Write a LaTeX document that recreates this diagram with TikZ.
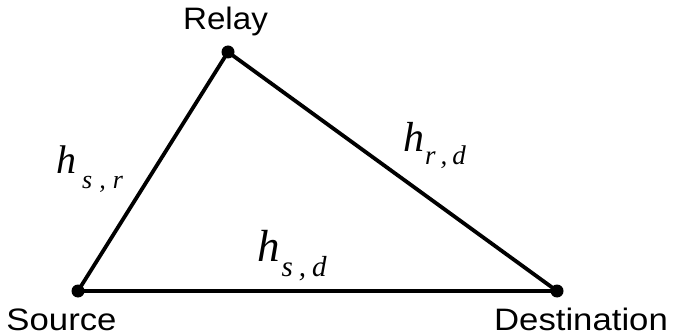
\documentclass[tikz,border=0pt]{standalone}
\usepackage{fontspec}
\setmainfont{Liberation Sans}
\newfontfamily\serifit{Liberation Serif}
\begin{document}
\begin{tikzpicture}[x=1pt,y=1pt,
  dot/.style={circle,fill=black,inner sep=0pt,minimum size=13pt},
  edge/.style={line width=3.8pt},
  lbl/.style={inner sep=0pt,anchor=base,font=\fontsize{31}{34}\selectfont},
  hlbl/.style={inner sep=0pt,anchor=base west}]
\useasboundingbox (0,0) rectangle (675,335);
\coordinate (S) at (78,44);
\coordinate (D) at (557,44);
\coordinate (R) at (228,283);
\draw[edge] (S) -- (R) -- (D) -- cycle;
\node[dot] (sd) at (S) {};
\node[dot] (dd) at (D) {};
\node[dot] (rd) at (R) {};
\node[lbl] (rl) at (225.5,305) {\scalebox{1.07}[1]{Relay}};
\node[lbl] (sl) at (61.5,5) {\scalebox{1.12}[1]{Source}};
\node[lbl] (dl) at (581,5) {\scalebox{1.12}[1]{Destination}};
\node[hlbl] (hsr) at (56,161) {\serifit\itshape{\fontsize{40}{40}\selectfont h}\hspace{6pt}\raisebox{-15pt}{\fontsize{26}{26}\selectfont s\hspace{7pt},\hspace{7pt}r}};
\node[hlbl] (hrd) at (403,183) {\serifit\itshape{\fontsize{42}{42}\selectfont h}\hspace{1pt}\raisebox{-13pt}{\fontsize{27}{27}\selectfont r\hspace{5pt},\hspace{5pt}d}};
\node[hlbl] (hsd) at (257,74) {\serifit\itshape{\fontsize{45}{45}\selectfont h}\hspace{2pt}\raisebox{-15pt}{\fontsize{29}{29}\selectfont s\hspace{6pt},\hspace{6pt}d}};
\end{tikzpicture}
\end{document}
